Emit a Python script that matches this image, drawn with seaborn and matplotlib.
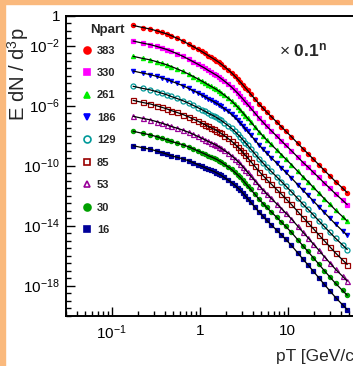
import numpy as np
import pandas as pd
import matplotlib
matplotlib.use("Agg")
import matplotlib.pyplot as plt
import matplotlib.ticker as mticker
from matplotlib.lines import Line2D
from matplotlib.patches import Rectangle
import seaborn as sns

# pT bin centres [GeV/c]
pt = [0.175, 0.225, 0.275, 0.325, 0.375, 0.425, 0.475, 0.55, 0.65, 0.75,
      0.85, 0.95, 1.05, 1.15, 1.25, 1.35, 1.45, 1.55, 1.65, 1.75,
      1.9, 2.1, 2.3, 2.5, 2.7, 2.9, 3.1, 3.3, 3.5, 3.8,
      4.25, 4.75, 5.25, 5.75, 6.5, 7.5, 8.5, 9.5, 11, 13,
      15, 17, 19.5, 22.5, 26, 30, 35, 42, 47.5]

# log10 of E dN/d3p (already scaled by 0.1^n)
log_383 = [-0.65, -0.79, -0.89, -1.01, -1.12, -1.22, -1.33, -1.50, -1.70, -1.90,
           -2.07, -2.23, -2.38, -2.52, -2.66, -2.78, -2.89, -3.00, -3.11, -3.22,
           -3.39, -3.60, -3.81, -4.02, -4.23, -4.43, -4.62, -4.81, -4.98, -5.23,
           -5.56, -5.90, -6.17, -6.42, -6.73, -7.09, -7.41, -7.70, -8.07, -8.51,
           -8.89, -9.20, -9.56, -9.93, -10.31, -10.67, -11.07, -11.50, -11.80]
log_330 = [-1.69, -1.83, -1.93, -2.05, -2.16, -2.26, -2.37, -2.53, -2.72, -2.91,
           -3.08, -3.23, -3.38, -3.51, -3.65, -3.76, -3.87, -3.97, -4.08, -4.19,
           -4.35, -4.56, -4.76, -4.97, -5.17, -5.37, -5.56, -5.75, -5.92, -6.17,
           -6.50, -6.84, -7.11, -7.36, -7.67, -8.03, -8.35, -8.64, -9.00, -9.43,
           -9.80, -10.09, -10.44, -10.79, -11.16, -11.50, -11.89, -12.31, -12.60]
log_261 = [-2.71, -2.85, -2.95, -3.07, -3.18, -3.28, -3.39, -3.54, -3.72, -3.90,
           -4.06, -4.21, -4.35, -4.48, -4.61, -4.72, -4.82, -4.92, -5.03, -5.13,
           -5.29, -5.49, -5.69, -5.90, -6.10, -6.29, -6.48, -6.67, -6.84, -7.09,
           -7.42, -7.76, -8.03, -8.28, -8.59, -8.95, -9.27, -9.56, -9.93, -10.38,
           -10.76, -11.07, -11.44, -11.81, -12.20, -12.56, -12.97, -13.40, -13.70]
log_186 = [-3.69, -3.83, -3.93, -4.05, -4.16, -4.26, -4.37, -4.51, -4.68, -4.85,
           -5.01, -5.15, -5.29, -5.41, -5.54, -5.64, -5.74, -5.84, -5.94, -6.04,
           -6.20, -6.39, -6.59, -6.78, -6.98, -7.17, -7.36, -7.55, -7.72, -7.97,
           -8.30, -8.64, -8.91, -9.16, -9.47, -9.83, -10.15, -10.44, -10.82, -11.27,
           -11.66, -11.98, -12.35, -12.73, -13.12, -13.50, -13.91, -14.35, -14.65]
log_129 = [-4.71, -4.85, -4.95, -5.07, -5.18, -5.28, -5.39, -5.52, -5.68, -5.84,
           -5.99, -6.13, -6.26, -6.38, -6.50, -6.60, -6.69, -6.79, -6.89, -6.98,
           -7.14, -7.33, -7.52, -7.71, -7.91, -8.09, -8.28, -8.47, -8.64, -8.89,
           -9.22, -9.56, -9.83, -10.08, -10.39, -10.75, -11.07, -11.36, -11.74, -12.19,
           -12.59, -12.91, -13.28, -13.67, -14.06, -14.44, -14.85, -15.29, -15.60]
log_85 = [-5.65, -5.79, -5.89, -6.01, -6.12, -6.22, -6.33, -6.45, -6.60, -6.75,
          -6.90, -7.03, -7.16, -7.27, -7.39, -7.48, -7.57, -7.66, -7.76, -7.85,
          -8.00, -8.19, -8.37, -8.56, -8.75, -8.93, -9.12, -9.31, -9.48, -9.73,
          -10.06, -10.40, -10.67, -10.92, -11.23, -11.59, -11.91, -12.20, -12.59, -13.06,
          -13.47, -13.81, -14.20, -14.60, -15.01, -15.40, -15.83, -16.29, -16.60]
log_53 = [-6.71, -6.85, -6.95, -7.07, -7.18, -7.28, -7.39, -7.50, -7.64, -7.78,
          -7.92, -8.05, -8.17, -8.28, -8.39, -8.48, -8.56, -8.65, -8.74, -8.84,
          -8.98, -9.16, -9.34, -9.53, -9.71, -9.89, -10.08, -10.27, -10.44, -10.69,
          -11.02, -11.36, -11.63, -11.88, -12.19, -12.55, -12.87, -13.16, -13.55, -14.04,
          -14.46, -14.81, -15.22, -15.63, -16.07, -16.47, -16.92, -17.38, -17.70]
log_30 = [-7.71, -7.85, -7.95, -8.07, -8.18, -8.28, -8.39, -8.49, -8.62, -8.75,
          -8.89, -9.01, -9.13, -9.23, -9.34, -9.42, -9.50, -9.58, -9.67, -9.76,
          -9.90, -10.08, -10.25, -10.44, -10.62, -10.79, -10.98, -11.17, -11.34, -11.59,
          -11.92, -12.26, -12.53, -12.78, -13.09, -13.45, -13.77, -14.06, -14.45, -14.94,
          -15.37, -15.73, -16.14, -16.56, -17.00, -17.41, -17.86, -18.33, -18.65]
log_16 = [-8.67, -8.81, -8.91, -9.03, -9.14, -9.24, -9.35, -9.44, -9.56, -9.68,
          -9.81, -9.93, -10.04, -10.14, -10.24, -10.32, -10.39, -10.48, -10.56, -10.65,
          -10.79, -10.96, -11.13, -11.30, -11.48, -11.65, -11.84, -12.03, -12.20, -12.45,
          -12.78, -13.12, -13.39, -13.64, -13.95, -14.31, -14.63, -14.92, -15.32, -15.82,
          -16.26, -16.62, -17.04, -17.47, -17.92, -18.34, -18.80, -19.28, -19.60]

npart = ["383", "330", "261", "186", "129", "85", "53", "30", "16"]
series = [log_383, log_330, log_261, log_186, log_129, log_85, log_53, log_30, log_16]
colors = ["#FF0000", "#FF00FF", "#00EE00", "#0000FF", "#009999", "#990000",
          "#990099", "#00A000", "#000099"]
markers = ["o", "s", "^", "v", "o", "s", "^", "o", "s"]
filled = [True, True, True, True, False, False, False, True, True]

sns.set_style("ticks")
plt.rcParams["font.family"] = ["Liberation Sans", "DejaVu Sans"]
plt.rcParams["mathtext.fontset"] = "custom"
plt.rcParams["mathtext.rm"] = "Liberation Sans"
plt.rcParams["mathtext.it"] = "Liberation Sans:italic"
plt.rcParams["mathtext.bf"] = "Liberation Sans:bold"

W, H = 353, 366
fig = plt.figure(figsize=(W / 100, H / 100), dpi=100)
fig.patch.set_facecolor("white")
ax_l, ax_r, ax_t, ax_b = 65.7, 355.5, 15.7, 315.5
ax = fig.add_axes([ax_l / W, 1 - ax_b / H, (ax_r - ax_l) / W, (ax_b - ax_t) / H])

for lab, ys, c, m, f in zip(npart, series, colors, markers, filled):
    df = pd.DataFrame({"pt": pt, "val": 10.0 ** np.array(ys)})
    sns.lineplot(data=df, x="pt", y="val", ax=ax, linestyle="none", marker=m,
                 markersize=3.0 if f else 3.6, color=c,
                 markerfacecolor=c if f else "none", markeredgecolor=c,
                 markeredgewidth=0.9, zorder=2, legend=False)
    sns.lineplot(data=df, x="pt", y="val", ax=ax, color="black", lw=0.9,
                 zorder=3, legend=False)

ax.set_xscale("log")
ax.set_yscale("log")
ax.set_xlim(0.03, 59)
ax.set_ylim(1e-20, 1)


def log_fmt(v, pos):
    e = int(round(np.log10(v)))
    if e == 0:
        return "1"
    if e == 1:
        return "10"
    return r"$10^{%d}$" % e


ax.xaxis.set_major_locator(mticker.FixedLocator([0.1, 1, 10]))
ax.xaxis.set_minor_locator(mticker.LogLocator(base=10, subs=np.arange(2, 10), numticks=20))
ax.xaxis.set_major_formatter(mticker.FuncFormatter(log_fmt))
ax.xaxis.set_minor_formatter(mticker.NullFormatter())
ax.yaxis.set_major_locator(mticker.FixedLocator([1, 1e-2, 1e-6, 1e-10, 1e-14, 1e-18]))
ax.yaxis.set_minor_locator(mticker.FixedLocator(10.0 ** np.arange(-20, 0.01, 0.5)))
ax.yaxis.set_major_formatter(mticker.FuncFormatter(log_fmt))
ax.yaxis.set_minor_formatter(mticker.NullFormatter())

ax.tick_params(which="both", direction="in", width=1.0, labelsize=11, colors="black")
ax.tick_params(which="major", length=6.5)
ax.tick_params(which="minor", length=3.3)
ax.tick_params(axis="x", pad=6)
ax.tick_params(axis="y", pad=4)
for s in ["left", "bottom", "top"]:
    ax.spines[s].set_linewidth(1.4)
    ax.spines[s].set_color("black")
ax.spines["right"].set_visible(False)

ax.set_ylabel(r"E dN / d$^{3}$p", fontsize=14.5, loc="top")
ax.yaxis.label.set(ha="right", va="center")
ax.yaxis.set_label_coords((18 - ax_l) / (ax_r - ax_l), (ax_b - 27) / (ax_b - ax_t))
ax.set_xlabel("pT [GeV/c]", fontsize=12.5, loc="right")
ax.xaxis.set_label_coords(1.0 + 3 / (ax_r - ax_l), (ax_b - 349) / (ax_b - ax_t))

handles = [Line2D([], [], ls="none", marker=m, ms=5, color=c,
                  mfc=c if f else "none", mec=c, mew=1.2)
           for c, m, f in zip(colors, markers, filled)]
ax.legend(handles, npart, loc="upper left", bbox_to_anchor=(82.5 / W, 1 - 45.5 / H),
          bbox_transform=fig.transFigure, frameon=False,
          prop={"weight": "bold", "size": 8}, handlelength=0.8,
          handletextpad=0.5, labelspacing=1.12, borderpad=0, borderaxespad=0)
fig.text(90 / W, 1 - 30 / H, "Npart", fontsize=9.5, fontweight="bold",
         ha="left", va="center")
fig.text(279 / W, 1 - 50 / H, r"× $\mathbf{0.1^{n}}$", fontsize=12.5,
         ha="left", va="center")

fig.patches.append(Rectangle((0, 0), 4.5 / W, 1, transform=fig.transFigure,
                             color="#FAB97D", zorder=10))
fig.patches.append(Rectangle((0, 1 - 4 / H), 1, 4 / H, transform=fig.transFigure,
                             color="#FAB97D", zorder=10))

fig.savefig("out.png", dpi=100)
